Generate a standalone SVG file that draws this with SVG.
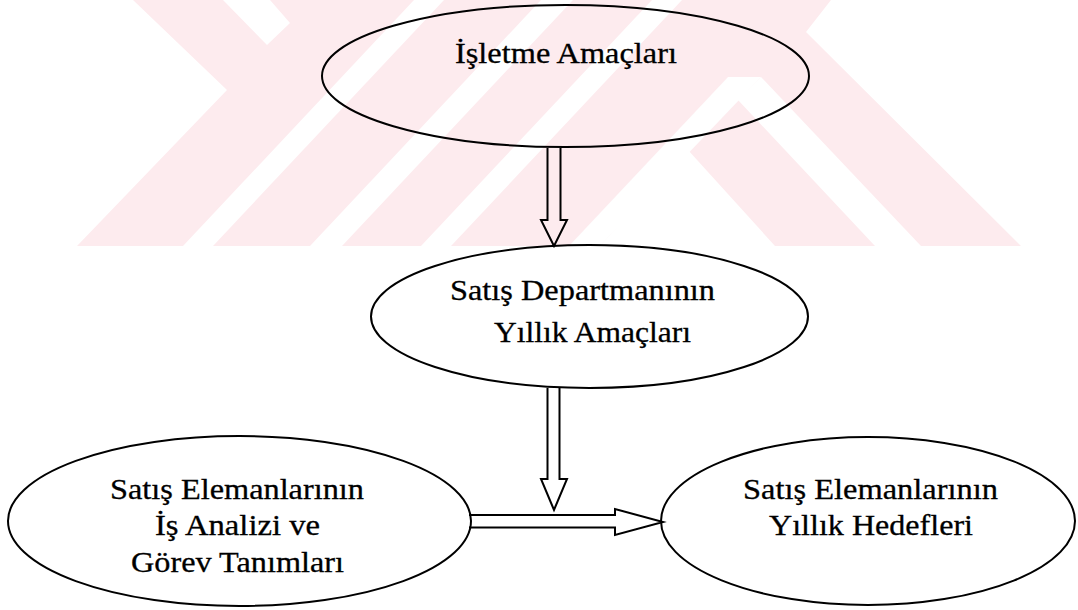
<svg xmlns="http://www.w3.org/2000/svg" width="1078" height="610" viewBox="0 0 1078 610">
<style>
.wm{fill:#fdebee}
.cut{fill:#ffffff}
.shape{fill:none;stroke:#000;stroke-width:2}
.arrow{fill:none;stroke:#000;stroke-width:2;stroke-linejoin:miter}
.lbl{font-family:"Liberation Serif","Times New Roman",serif;font-size:29px;fill:#000;stroke:#000;stroke-width:0.3}
</style>
<rect x="0" y="0" width="1078" height="610" fill="#ffffff"/>
<g id="watermark">
<polygon class="wm" points="133,0 227,90 77,246 1021,246 806,32 831,0"/>
<polygon class="cut" points="223,0 270,0 290,23 267,45"/>
<polygon class="cut" points="414,0 444,0 213,246 183,246"/>
<polygon class="cut" points="541,0 573,0 342,246 310,246"/>
<polygon class="cut" points="652,0 682,0 451,246 421,246"/>
<polygon class="cut" points="728,77 761,77 600,246 569,246"/>
<polygon class="cut" points="688,150 775,246 600,246"/>
<polygon class="cut" points="761,77 921,246 875,246 738,100"/>
</g>
<g id="connectors">
<path class="arrow" d="M547.5,148 V220 H541 L554,246 L567,220 H560.5 V148"/>
<path class="arrow" d="M547.5,388 V479 H541 L554,510 L567,479 H559.5 V388"/>
<path class="arrow" d="M469,515 H615 V509 L663,522 L615,535 V527.5 H469"/>
</g>
<g id="node-isletme-amaclari">
<ellipse class="shape" cx="565.5" cy="76" rx="243.5" ry="71"/>
<text class="lbl" x="455" y="63" textLength="222" lengthAdjust="spacingAndGlyphs">İşletme Amaçları</text>
</g>
<g id="node-satis-departmani">
<ellipse class="shape" cx="589.5" cy="316.5" rx="218.5" ry="71.5"/>
<text class="lbl" x="450" y="300" textLength="265" lengthAdjust="spacingAndGlyphs">Satış Departmanının</text>
<text class="lbl" x="494" y="342" textLength="197" lengthAdjust="spacingAndGlyphs">Yıllık Amaçları</text>
</g>
<g id="node-is-analizi">
<ellipse class="shape" cx="239.5" cy="521" rx="231.5" ry="85"/>
<text class="lbl" x="110" y="499" textLength="254" lengthAdjust="spacingAndGlyphs">Satış Elemanlarının</text>
<text class="lbl" x="155" y="535" textLength="165" lengthAdjust="spacingAndGlyphs">İş Analizi ve</text>
<text class="lbl" x="131" y="572" textLength="213" lengthAdjust="spacingAndGlyphs">Görev Tanımları</text>
</g>
<g id="node-yillik-hedefler">
<ellipse class="shape" cx="868" cy="521" rx="207" ry="84"/>
<text class="lbl" x="743" y="499" textLength="255" lengthAdjust="spacingAndGlyphs">Satış Elemanlarının</text>
<text class="lbl" x="769" y="535" textLength="204" lengthAdjust="spacingAndGlyphs">Yıllık Hedefleri</text>
</g>
</svg>
